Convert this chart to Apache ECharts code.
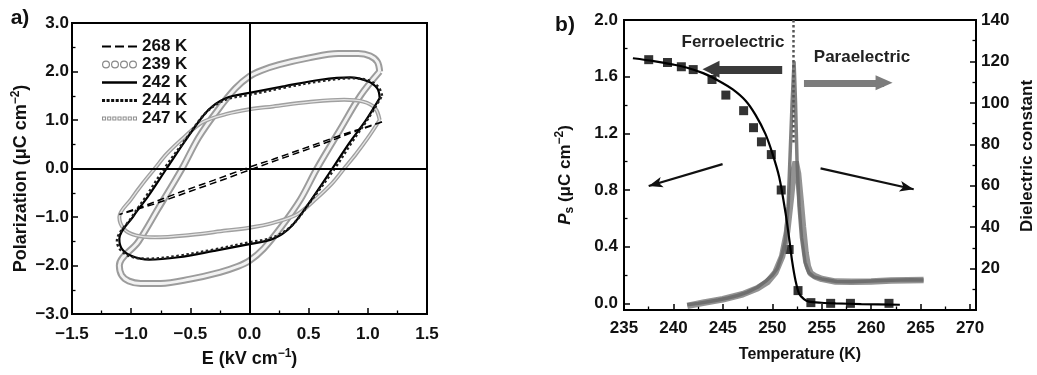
<!DOCTYPE html>
<html><head><meta charset="utf-8">
<script src="https://cdn.jsdelivr.net/npm/echarts@6/dist/echarts.min.js"></script>
<style>html,body{margin:0;padding:0;background:#fff}#c{width:1037px;height:375px}</style>
</head><body><div id="c"></div>
<script>
// ---------- Panel a) hysteresis loops: [E (kV/cm), P (uC/cm2)] ----------
const legendNames = ['268 K', '239 K', '242 K', '244 K', '247 K'];
const loop268 = [[1.12,0.96],[0.8,0.71],[0.5,0.45],[0.2,0.19],[0,0.03],[-0.3,-0.24],[-0.6,-0.5],[-0.9,-0.78],[-1.1,-0.95],
  [-0.8,-0.73],[-0.5,-0.47],[-0.2,-0.21],[0,-0.03],[0.3,0.23],[0.6,0.49],[0.9,0.77],[1.12,0.96]];
const loop239 = [[1.1,2.0],[1.08,2.2],[1.02,2.32],[0.92,2.37],[0.75,2.37],[0.5,2.28],[0.25,2.14],[0.1,2.02],[0,1.9],
  [-0.12,1.65],[-0.27,1.2],[-0.43,0.64],[-0.57,0],[-0.77,-0.82],[-0.94,-1.51],[-1.1,-2.0],
  [-1.08,-2.2],[-1.02,-2.32],[-0.92,-2.37],[-0.75,-2.37],[-0.5,-2.28],[-0.25,-2.14],[-0.1,-2.02],[0,-1.9],
  [0.12,-1.65],[0.27,-1.2],[0.43,-0.64],[0.57,0],[0.77,0.82],[0.94,1.51],[1.1,2.0]];
const loop242 = [[1.1,1.45],[1.08,1.65],[1.0,1.8],[0.85,1.88],[0.6,1.83],[0.3,1.7],[0,1.56],[-0.2,1.45],[-0.35,1.2],
  [-0.52,0.65],[-0.7,0],[-0.85,-0.55],[-0.98,-0.98],[-1.1,-1.45],
  [-1.08,-1.65],[-1.0,-1.8],[-0.85,-1.88],[-0.6,-1.83],[-0.3,-1.7],[0,-1.56],[0.2,-1.45],[0.35,-1.2],
  [0.52,-0.65],[0.7,0],[0.85,0.55],[0.98,0.98],[1.1,1.45]];
const loop244 = [[1.12,1.5],[1.09,1.68],[1.0,1.82],[0.85,1.86],[0.6,1.8],[0.3,1.67],[0,1.52],[-0.2,1.42],[-0.36,1.17],
  [-0.54,0.6],[-0.72,0],[-0.87,-0.56],[-1.0,-1.02],[-1.12,-1.5],
  [-1.09,-1.68],[-1.0,-1.82],[-0.85,-1.86],[-0.6,-1.8],[-0.3,-1.67],[0,-1.52],[0.2,-1.42],[0.36,-1.17],
  [0.54,-0.6],[0.72,0],[0.87,0.56],[1.0,1.02],[1.12,1.5]];
const loop247 = [[1.1,1.0],[1.06,1.25],[0.96,1.38],[0.8,1.42],[0.5,1.37],[0.2,1.28],[0,1.22],[-0.2,1.12],[-0.4,0.95],
  [-0.55,0.65],[-0.7,0.3],[-0.8,0],[-0.9,-0.3],[-1.0,-0.63],[-1.1,-1.0],
  [-1.06,-1.25],[-0.96,-1.38],[-0.8,-1.42],[-0.5,-1.37],[-0.2,-1.28],[0,-1.22],[0.2,-1.12],[0.4,-0.95],
  [0.55,-0.65],[0.7,-0.3],[0.8,0],[0.9,0.3],[1.0,0.63],[1.1,1.0]];

// ---------- Panel b) ----------
const psTemp  = [237.5,239.4,240.8,242.0,243.9,245.3,247.1,248.1,248.9,249.9,250.9,251.7,252.6,253.9,255.9,257.9,261.8];
const psValue = [1.72,1.70,1.67,1.65,1.58,1.47,1.36,1.24,1.14,1.05,0.80,0.38,0.09,0.005,0.0,0.0,0.0];
const fitTemp  = [235.9,238,240,241.3,243,244.6,246,247.3,248.3,249.3,250,250.7,251.35,251.7,252.0,252.35,252.7,253.2,253.7,255,256.4,259,262.9];
const fitValue = [1.73,1.71,1.685,1.665,1.625,1.57,1.51,1.43,1.33,1.196,1.06,0.89,0.633,0.46,0.30,0.16,0.07,0.03,0.012,0.004,0,-0.005,-0.01];
const dielTempA = [241.4,242.5,243.5,244.5,245.5,246.5,247.5,248.5,249.3,250,250.5,251,251.3,251.6,251.8,252.0,252.2,252.35,252.5,252.7,252.95,253.3,253.7,254.2,255,256.5,258,260,262,264,265.3];
const dielValA  = [2.5,3.2,4.0,4.8,5.8,7.0,8.6,11,13.8,16.8,20,27,33,50,75,100,120,100,72,50,35,23,18,16,15,13.8,13.6,14,14.4,14.6,14.5];
const dielTempB = [241.4,243,245,247,248.5,249.5,250.3,251,251.5,251.9,252.15,252.36,252.6,252.86,253.1,253.37,253.6,253.87,254.4,255,256.4,258,260,262,265.3];
const dielValB  = [2,3.5,5.2,7.6,10.5,13.5,18,26,38,55,67,71.6,66,53,40,27.4,21,17.7,16.1,15,13.7,13.6,13.8,14.2,14.5];
const psTicks = [0,0.4,0.8,1.2,1.6,2.0];
const psMinorTicks = [0.2,0.6,1.0,1.4,1.8];
// annotation arrows [tail, head] in (T, Ps) units
const arrowFerro = [[251.0,1.652],[243.8,1.652]];
const arrowPara  = [[253.2,1.557],[261.3,1.557]];
const arrowLeft  = [[244.97,0.983],[237.5,0.828]];
const arrowRight = [[254.88,0.953],[264.3,0.805]];
const tcLine = [[252.1,2.0],[252.1,1.12]];

const FONT = '"Liberation Sans", Arial, sans-serif';
const zip = (a, b) => a.map((v, i) => [v, b[i]]);
const fmtA = v => { const s = Math.abs(v).toFixed(1); return v < -1e-9 ? '\u2212' + s : s; };

function ring(cx) { return `M${cx-4},4a4,4 0 1,1 8,0a4,4 0 1,1 -8,0z M${cx-2.8},4a2.8,2.8 0 1,0 5.6,0a2.8,2.8 0 1,0 -5.6,0z`; }
const ICON_DASH = 'path://M0,0h9v2.2h-9z M13,0h9v2.2h-9z M26,0h9v2.2h-9z';
const ICON_CIRC = 'path://' + [4,13,22,31].map(ring).join(' ');
const ICON_LINE = 'path://M0,0h35v2.6h-35z';
const ICON_STAR = 'path://' + [0,4.5,9,13.5,18,22.5,27,31.5].map(x => `M${x},0h3v3h-3z`).join(' ');
const ICON_SQ = 'path://' + [0,5,10,15,20,25,30].map(x => `M${x},0h4v4h-4z M${x+1},1v2h2v-2z`).join(' ');
const legendIcons = [ICON_DASH, ICON_CIRC, ICON_LINE, ICON_STAR, ICON_SQ];

const tickLabel = {fontSize: 17, fontWeight: 'bold', color: '#111', fontFamily: FONT};
const axLine = {lineStyle: {color: '#000', width: 2}};
const tick = {inside: true, length: 6, lineStyle: {color: '#000', width: 1.5}};
const minor = {show: true, splitNumber: 2, length: 3.5, lineStyle: {color: '#000', width: 1.3}};
const richName = {
  t: {fontSize: 18, fontWeight: 'bold', fontFamily: FONT, color: '#111', lineHeight: 22},
  s: {fontSize: 12, fontWeight: 'bold', fontFamily: FONT, color: '#111', verticalAlign: 'top', lineHeight: 13},
  b: {fontSize: 12, fontWeight: 'bold', fontFamily: FONT, color: '#111', verticalAlign: 'bottom', lineHeight: 13},
  i: {fontSize: 18, fontWeight: 'bold', fontStyle: 'italic', fontFamily: FONT, color: '#111', lineHeight: 22}
};
const richName2 = JSON.parse(JSON.stringify(richName));
richName2.t.fontSize = 17; richName2.i.fontSize = 17;

const endStyle = (w, c, t) => ({color: c, width: w, type: t || 'solid'});
function arrow(pts, w, c, sym, size) {
  const ls = endStyle(w, c);
  return [{coord: pts[0], symbol: 'none', lineStyle: ls}, {coord: pts[1], symbol: sym, symbolSize: size, lineStyle: ls}];
}

const chart = echarts.init(document.getElementById('c'), null, {renderer: 'canvas'});
chart.setOption({
  animation: false,
  backgroundColor: '#fff',
  grid: [
    {left: 72, top: 23, width: 355, height: 291, show: true, borderColor: '#000', borderWidth: 2, backgroundColor: 'transparent'},
    {left: 624, top: 20, width: 353, height: 290, show: true, borderColor: '#000', borderWidth: 2, backgroundColor: 'transparent'}
  ],
  xAxis: [
    {type: 'value', gridIndex: 0, min: -1.5, max: 1.5, interval: 0.5,
     axisLine: Object.assign({onZero: false}, axLine), axisTick: tick, minorTick: minor, splitLine: {show: false},
     axisLabel: Object.assign({margin: 12, formatter: fmtA}, tickLabel),
     name: '{t|E (kV cm}{s|\u22121}{t|)}', nameLocation: 'middle', nameGap: 34, nameTextStyle: {rich: richName}},
    {type: 'value', gridIndex: 1, min: 235, max: 270.6, interval: 5,
     axisLine: Object.assign({onZero: false}, axLine), axisTick: tick, minorTick: minor, splitLine: {show: false},
     axisLabel: Object.assign({margin: 10, showMaxLabel: false, formatter: v => (Math.abs(v % 5) < 1e-6 ? String(v) : '')}, tickLabel),
     name: 'Temperature (K)', nameLocation: 'middle', nameGap: 37,
     nameTextStyle: {fontSize: 16, fontWeight: 'bold', color: '#111', fontFamily: FONT}}
  ],
  yAxis: [
    {type: 'value', gridIndex: 0, min: -3, max: 3, interval: 1,
     axisLine: Object.assign({onZero: false}, axLine), axisTick: tick, minorTick: minor, splitLine: {show: false},
     axisLabel: Object.assign({margin: 3, formatter: fmtA}, tickLabel),
     name: '{t|Polarization (\u03bcC cm}{s|\u22122}{t|)}', nameLocation: 'middle', nameGap: 40,
     nameTextStyle: {rich: richName, padding: [0, 20, 0, 0]}},
    {type: 'value', gridIndex: 1, position: 'left', min: -0.047, max: 2.0,
     axisLine: Object.assign({onZero: false}, axLine), splitLine: {show: false},
     axisTick: Object.assign({customValues: psTicks}, tick),
     axisLabel: Object.assign({margin: 6, customValues: psTicks, formatter: v => v.toFixed(1)}, tickLabel),
     name: '{i|P}{b|s}{t| (\u03bcC cm}{s|\u22122}{t|)}', nameLocation: 'middle', nameGap: 48,
     nameTextStyle: {rich: richName2, padding: [0, 20, 0, 0]}},
    {type: 'value', gridIndex: 1, position: 'right', min: 0, max: 140, interval: 20,
     axisLine: Object.assign({onZero: false}, axLine), axisTick: tick, minorTick: minor, splitLine: {show: false},
     axisLabel: Object.assign({margin: 5, showMinLabel: false}, tickLabel),
     name: 'Dielectric constant', nameLocation: 'middle', nameGap: 43,
     nameTextStyle: {fontSize: 17, fontWeight: 'bold', color: '#111', fontFamily: FONT, padding: [0, 0, 0, 18]}},
    {type: 'value', gridIndex: 1, position: 'left', min: -0.047, max: 2.0,
     axisLine: {show: false}, splitLine: {show: false}, axisLabel: {show: false},
     axisTick: {inside: true, length: 3.5, customValues: psMinorTicks, lineStyle: {color: '#000', width: 1.3}}}
  ],
  legend: {
    orient: 'vertical', left: 97, top: 33, itemWidth: 35, itemHeight: 9, itemGap: 1, selectedMode: false,
    itemStyle: {borderWidth: 0},
    textStyle: {fontSize: 17, fontWeight: 'bold', color: '#111', fontFamily: FONT},
    data: legendNames.map((n, i) => ({name: n, icon: legendIcons[i]}))
  },
  series: [
    {name: '239 K', type: 'line', xAxisIndex: 0, yAxisIndex: 0, data: loop239, symbol: 'none', smooth: 0.35,
     itemStyle: {color: '#8a8a8a'}, lineStyle: {color: '#9c9c9c', width: 7}},
    {name: '239 K inner', type: 'line', xAxisIndex: 0, yAxisIndex: 0, data: loop239, symbol: 'none', smooth: 0.35,
     itemStyle: {color: '#fff'}, lineStyle: {color: '#f2f2f2', width: 3}},
    {name: '247 K', type: 'line', xAxisIndex: 0, yAxisIndex: 0, data: loop247, symbol: 'none', smooth: 0.35,
     itemStyle: {color: '#8f8f8f'}, lineStyle: {color: '#a0a0a0', width: 4}},
    {name: '247 K inner', type: 'line', xAxisIndex: 0, yAxisIndex: 0, data: loop247, symbol: 'none', smooth: 0.35,
     itemStyle: {color: '#fff'}, lineStyle: {color: '#e4e4e4', width: 1.3}},
    {name: '242 K', type: 'line', xAxisIndex: 0, yAxisIndex: 0, data: loop242, symbol: 'none', smooth: 0.35,
     itemStyle: {color: '#000'}, lineStyle: {color: '#000', width: 2.2}},
    {name: '244 K', type: 'line', xAxisIndex: 0, yAxisIndex: 0, data: loop244, symbol: 'none', smooth: 0.35,
     itemStyle: {color: '#111'}, lineStyle: {color: '#222', width: 2.5, type: 'dotted'}},
    {name: '268 K', type: 'line', xAxisIndex: 0, yAxisIndex: 0, data: loop268, symbol: 'none', smooth: false,
     itemStyle: {color: '#000'}, lineStyle: {color: '#000', width: 1.5, type: [7, 4]},
     markLine: {silent: true, symbol: ['none', 'none'], label: {show: false},
       lineStyle: {color: '#000', width: 2, type: 'solid'}, data: [{xAxis: 0}, {yAxis: 0}]}},
    // panel b
    {name: 'eps B', type: 'line', xAxisIndex: 1, yAxisIndex: 2, data: zip(dielTempB, dielValB), symbol: 'none',
     itemStyle: {color: '#888'}, lineStyle: {color: 'rgba(120,120,120,0.8)', width: 6.5}},
    {name: 'eps A', type: 'line', xAxisIndex: 1, yAxisIndex: 2, data: zip(dielTempA, dielValA), symbol: 'none',
     itemStyle: {color: '#888'}, lineStyle: {color: 'rgba(105,105,105,0.85)', width: 3.5}},
    {name: 'Ps fit', type: 'line', xAxisIndex: 1, yAxisIndex: 1, data: zip(fitTemp, fitValue), symbol: 'none', smooth: 0.3,
     itemStyle: {color: '#000'}, lineStyle: {color: '#000', width: 2.2},
     markLine: {silent: true, symbol: ['none', 'none'], label: {show: false},
       data: [
         [{coord: tcLine[0], symbol: 'none', lineStyle: endStyle(2.5, '#555', 'dotted')}, {coord: tcLine[1], symbol: 'none', lineStyle: endStyle(2.5, '#555', 'dotted')}],
         arrow(arrowFerro, 8, '#3a3a3a', 'triangle', [17, 17]),
         arrow(arrowPara, 7, '#7c7c7c', 'triangle', [15, 17]),
         arrow(arrowLeft, 2.2, '#111', 'arrow', [8, 14]),
         arrow(arrowRight, 2.2, '#111', 'arrow', [8, 14])
       ]}},
    {name: 'Ps', type: 'scatter', xAxisIndex: 1, yAxisIndex: 1, data: zip(psTemp, psValue), symbol: 'rect', symbolSize: 9,
     itemStyle: {color: '#000'}}
  ],
  graphic: [
    {type: 'text', x: 20, y: 18, style: {text: 'a)', font: 'bold 21px "Liberation Sans", Arial', fill: '#111', align: 'center', verticalAlign: 'middle', textAlign: 'center', textVerticalAlign: 'middle'}},
    {type: 'text', x: 565, y: 25, style: {text: 'b)', font: 'bold 21px "Liberation Sans", Arial', fill: '#111', align: 'center', verticalAlign: 'middle', textAlign: 'center', textVerticalAlign: 'middle'}},
    {type: 'text', x: 733, y: 42, style: {text: 'Ferroelectric', font: 'bold 17px "Liberation Sans", Arial', fill: '#222', align: 'center', verticalAlign: 'middle', textAlign: 'center', textVerticalAlign: 'middle'}},
    {type: 'text', x: 862, y: 57, style: {text: 'Paraelectric', font: 'bold 17px "Liberation Sans", Arial', fill: '#222', align: 'center', verticalAlign: 'middle', textAlign: 'center', textVerticalAlign: 'middle'}}
  ]
});
</script>
</body></html>
